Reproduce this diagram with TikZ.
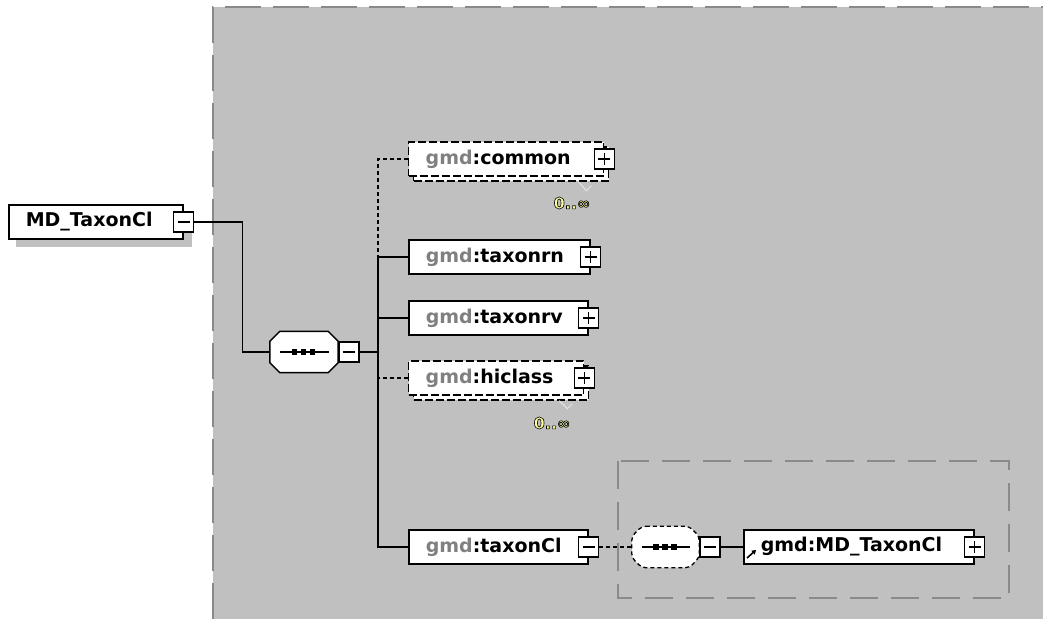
\documentclass[tikz,border=0pt]{standalone}
\usepackage{fontspec}
\setmainfont{DejaVu Sans}
\usetikzlibrary{arrows.meta}
\definecolor{bggray}{HTML}{C0C0C0}
\definecolor{bordergray}{HTML}{8A8A8A}
\definecolor{pregray}{HTML}{808080}
\definecolor{occyellow}{HTML}{FFFF99}
\definecolor{tickgray}{HTML}{E6E6E6}
\newcommand{\pre}[1]{\textcolor{pregray}{#1}}
\newcommand{\occtext}[1]{{\color{occyellow}\special{pdf:literal direct 0 0 0 RG 0.6 w 2 Tr}#1\special{pdf:literal direct 0 Tr}}}
\begin{document}
\begin{tikzpicture}[x=1pt,y=-1pt,
  every node/.style={font=\fontsize{19}{22}\selectfont\bfseries},
  elem/.style={draw, fill=white, line width=1.5pt, minimum height=34, anchor=west, inner xsep=17pt, inner ysep=0pt, align=left},
  elemopt/.style={elem, line width=1.3pt, dash pattern=on 8pt off 3pt},
  elemback/.style={draw, fill=white, line width=1.3pt, minimum height=34, anchor=west, inner sep=0pt, dash pattern=on 8pt off 3pt},
  conn/.style={line width=1.2pt},
  optconn/.style={line width=1.2pt, dash pattern=on 4pt off 3pt},
  pmbox/.style={draw, fill=white, line width=1.3pt, minimum size=20, inner sep=0pt},
  minusbox/.style={pmbox, path picture={\draw[line width=1.2pt] ([xshift=4pt]path picture bounding box.west) -- ([xshift=-4pt]path picture bounding box.east);}},
  plusbox/.style={pmbox, path picture={\draw[line width=1.2pt] ([xshift=4pt]path picture bounding box.west) -- ([xshift=-4pt]path picture bounding box.east) ([yshift=4pt]path picture bounding box.south) -- ([yshift=-4pt]path picture bounding box.north);}},
  seqbox/.style={rectangle, minimum width=68, minimum height=41, inner sep=0pt},
  octo/.style={draw, fill=white, line width=1.5pt},
  occ/.style={font=\fontsize{16}{18}\selectfont\bfseries, inner sep=0pt},
  tick/.style={draw=tickgray, line width=1pt}
]
\useasboundingbox (0,0) rectangle (1043,619);
\fill[white] (0,0) rectangle (1043,619);
% model group area
\fill[bggray] (213,7) rectangle (1043,619);
\draw[bordergray, line width=1.8pt, dash pattern=on 36pt off 12pt] (213,619) -- (213,7) -- (1043,7);
\draw[bordergray, line width=1.8pt, dash pattern=on 28pt off 13pt] (618,461) rectangle (1009,598);

% root element with shadow
\fill[bggray] (16,213) rectangle (192,247);
\node[elem, text width=140pt] (root) at (8,222) {MD\_TaxonCl};
\node[minusbox] (rootm) at (root.east) {};

% sequence
\node[seqbox] (seq) at (304,352) {};
\draw[octo] ([xshift=10pt]seq.north west) -- ([xshift=-10pt]seq.north east) -- ([yshift=-10pt]seq.north east) -- ([yshift=10pt]seq.south east) -- ([xshift=-10pt]seq.south east) -- ([xshift=10pt]seq.south west) -- ([yshift=10pt]seq.south west) -- ([yshift=-10pt]seq.north west) -- cycle;
\draw[line width=1.2pt] ([xshift=-24pt]seq.center) -- ([xshift=25pt]seq.center);
\foreach \dx in {-9.5,-0.5,8.5} \fill[black] ([xshift=\dx pt]seq.center) +(-2.8,-2.8) rectangle +(2.8,2.8);
\node[minusbox, anchor=west] (seqm) at (seq.east) {};

% children
\node[elemback, minimum width=195] (commonB) at (413,164) {};
\node[elemopt, text width=161pt] (common) at (408,159) {\pre{gmd}:common};
\node[plusbox] (commonp) at (common.east) {};
\node[occ] (commono) at (572,203) {\occtext{0..∞}};

\node[elem, text width=147pt] (taxonrn) at (408,257) {\pre{gmd}:taxonrn};
\node[plusbox] (taxonrnp) at (taxonrn.east) {};

\node[elem, text width=145pt] (taxonrv) at (408,318) {\pre{gmd}:taxonrv};
\node[plusbox] (taxonrvp) at (taxonrv.east) {};

\node[elemback, minimum width=175] (hiclassB) at (413,383) {};
\node[elemopt, text width=141pt] (hiclass) at (408,378) {\pre{gmd}:hiclass};
\node[plusbox] (hiclassp) at (hiclass.east) {};
\node[occ] (hiclasso) at (552,423) {\occtext{0..∞}};

\node[elem, text width=145pt] (taxonCl) at (408,547) {\pre{gmd}:taxonCl};
\node[minusbox] (taxonClm) at (taxonCl.east) {};

% inner sequence
\node[seqbox, minimum width=67] (seq2) at (665.5,547) {};
\draw[octo, line width=1.3pt, rounded corners=4pt, dash pattern=on 4pt off 3pt] ([xshift=10pt]seq2.north west) -- ([xshift=-10pt]seq2.north east) -- ([yshift=-10pt]seq2.north east) -- ([yshift=10pt]seq2.south east) -- ([xshift=-10pt]seq2.south east) -- ([xshift=10pt]seq2.south west) -- ([yshift=10pt]seq2.south west) -- ([yshift=-10pt]seq2.north west) -- cycle;
\draw[line width=1.2pt] ([xshift=-24pt]seq2.center) -- ([xshift=24pt]seq2.center);
\foreach \dx in {-9.5,-0.5,8.5} \fill[black] ([xshift=\dx pt]seq2.center) +(-2.8,-2.8) rectangle +(2.8,2.8);
\node[minusbox, anchor=west] (seq2m) at (seq2.east) {};
\node[elem, text width=196pt] (mdref) at (743,547) {gmd:MD\_TaxonCl};
\node[plusbox] (mdrefp) at (mdref.east) {};
\draw[-{Triangle[length=4pt,width=5pt]}, line width=1.6pt] ([shift={(4,11)}]mdref.west) -- ([shift={(13,3)}]mdref.west);

% connectors
\coordinate (t1) at (378,257);
\draw[conn] (rootm.east) -- ++(48,0) |- (seq.west);
\draw[conn] (seqm.east) -- (seqm.east -| t1);
\draw[optconn] (common.west) -| (t1);
\draw[conn] (taxonrn.west) -- (t1);
\draw[conn] (t1) |- (taxonCl.west);
\draw[conn] (taxonrv.west) -- (taxonrv.west -| t1);
\draw[optconn] (hiclass.west) -- (hiclass.west -| t1);
\draw[optconn] (taxonClm.east) -- (seq2.west);
\draw[conn] (seq2m.east) -- (mdref.west);

% occurrence ticks
\draw[tick] ([xshift=-31pt]commonB.south east) -- ++(8,9) -- ++(5,-5);
\draw[tick] ([xshift=-30pt]hiclassB.south east) -- ++(8,8) -- ++(5,-5);
\end{tikzpicture}
\end{document}
